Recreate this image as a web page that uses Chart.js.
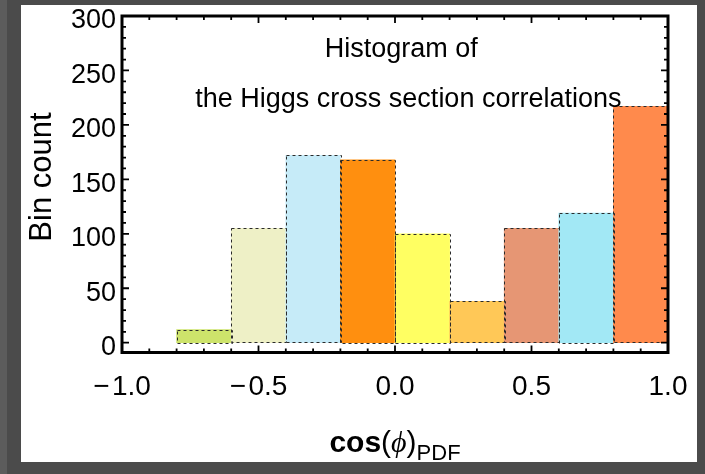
<!DOCTYPE html>
<html>
<head>
<meta charset="utf-8">
<script src="https://cdn.jsdelivr.net/npm/chart.js@4.4.1/dist/chart.umd.min.js"></script>
<style>
  html, body { margin: 0; padding: 0; }
  body { width: 705px; height: 474px; background: #4b4b4b; position: relative; overflow: hidden; }
  #strip { position: absolute; left: 0; top: 0; width: 7px; height: 474px; background: #5c5c5c; }
  #panel { position: absolute; left: 21px; top: 5px; width: 676px; height: 457px; background: #fff; }
</style>
</head>
<body>
<div id="strip"></div>
<div id="panel"><canvas id="histo" width="676" height="457"></canvas></div>
<script>
// histogram bins (width 0.2) and their counts
const binCentres = [-0.7, -0.5, -0.3, -0.1, 0.1, 0.3, 0.5, 0.7, 0.9];
const binCounts  = [12, 105, 172, 168, 100, 38, 105, 119, 217];
const binColours = ['#cde36b', '#eef0c6', '#c6ebf8', '#ff8f0f', '#ffff62',
                    '#ffc857', '#e69674', '#a2e8f5', '#ff8a4c'];

const xTicks = [-1.0, -0.5, 0.0, 0.5, 1.0];
const yTicks = [0, 50, 100, 150, 200, 250, 300];

const titleLines = ['Histogram of', 'the Higgs cross section correlations'];
const yTitle = 'Bin count';

const FONT = '"Liberation Sans", Arial, sans-serif';

function fmtX(v) {
  if (Math.abs(v) < 1e-9) return '0.0';
  return (v < 0 ? '\u2212\u200A' : '') + Math.abs(v).toFixed(1);
}

// Mathematica-style frame: inward ticks on all four sides
const framePlugin = {
  id: 'framePlugin',
  afterDatasetsDraw(chart) {
    const ctx = chart.ctx;
    const meta = chart.getDatasetMeta(0);
    ctx.save();
    ctx.strokeStyle = '#2b2b2b';
    ctx.lineWidth = 1;
    ctx.setLineDash([3, 3]);
    meta.data.forEach(bar => {
      const p = bar.getProps(['x', 'y', 'base', 'width'], true);
      const l = Math.round(p.x - p.width / 2) + 0.5;
      const t = Math.round(p.y) + 0.5;
      ctx.strokeRect(l, t, Math.round(p.width), Math.round(p.base - p.y));
    });
    ctx.restore();
  },
  afterDraw(chart) {
    const ctx = chart.ctx;
    const a = chart.chartArea;
    const x = chart.scales.x, y = chart.scales.y;

    ctx.save();
    ctx.strokeStyle = '#000';
    ctx.lineWidth = 1.8;
    ctx.beginPath();
    for (let i = -10; i <= 10; i++) {
      const v = i / 10;
      const px = x.getPixelForValue(v);
      const len = (i % 5 === 0) ? 7 : 4;
      ctx.moveTo(px, a.bottom); ctx.lineTo(px, a.bottom - len);
      ctx.moveTo(px, a.top); ctx.lineTo(px, a.top + len);
    }
    for (let v = 0; v <= 300; v += 10) {
      const py = y.getPixelForValue(v);
      const len = (v % 50 === 0) ? 7 : 4;
      ctx.moveTo(a.left, py); ctx.lineTo(a.left + len, py);
      ctx.moveTo(a.right, py); ctx.lineTo(a.right - len, py);
    }
    ctx.stroke();

    ctx.lineWidth = 3;
    ctx.strokeRect(a.left, a.top, a.right - a.left, a.bottom - a.top);

    // text inside the frame
    ctx.fillStyle = '#000';
    ctx.font = '27px ' + FONT;
    ctx.textAlign = 'center';
    ctx.textBaseline = 'alphabetic';
    ctx.fillText(titleLines[0], x.getPixelForValue(0.023), y.getPixelForValue(262));
    ctx.fillText(titleLines[1], x.getPixelForValue(0.049), y.getPixelForValue(216));

    // y axis title
    ctx.save();
    ctx.translate(30, 172);
    ctx.rotate(-Math.PI / 2);
    ctx.font = '31px ' + FONT;
    ctx.fillText(yTitle, 0, 0);
    ctx.restore();

    // x axis title: cos(phi) with PDF subscript
    const parts = [
      { t: 'cos', f: 'bold 30px ' + FONT, dy: 0 },
      { t: '(', f: '30px ' + FONT, dy: 0 },
      { t: '\u03D5', f: 'italic 30px "Liberation Serif", "DejaVu Serif", serif', dy: 0 },
      { t: ')', f: '30px ' + FONT, dy: 0 },
      { t: 'PDF', f: '22px ' + FONT, dy: 8 }
    ];
    let total = 0;
    parts.forEach(p => { ctx.font = p.f; p.w = ctx.measureText(p.t).width; total += p.w; });
    let cx = x.getPixelForValue(0) - total / 2;
    ctx.textAlign = 'left';
    parts.forEach(p => {
      ctx.font = p.f;
      ctx.fillText(p.t, cx, 447 + p.dy);
      cx += p.w;
    });
    ctx.restore();
  }
};

new Chart(document.getElementById('histo'), {
  type: 'bar',
  data: {
    datasets: [{
      data: binCentres.map((c, i) => ({ x: c, y: binCounts[i] })),
      backgroundColor: binColours,
      borderWidth: 0,
      barPercentage: 1,
      categoryPercentage: 1
    }]
  },
  options: {
    responsive: false,
    animation: false,
    layout: { padding: { top: 11, right: 29, left: 0, bottom: 0 } },
    plugins: { legend: { display: false }, tooltip: { enabled: false } },
    scales: {
      x: {
        type: 'linear',
        offset: false,
        min: -1,
        max: 1,
        grid: { display: false, drawTicks: false },
        border: { display: false },
        afterBuildTicks: s => { s.ticks = xTicks.map(v => ({ value: v })); },
        afterFit: s => { s.height = 109.5; s.paddingLeft = 0; s.paddingRight = 0; },
        ticks: {
          autoSkip: false,
          maxRotation: 0,
          padding: 18,
          color: '#000',
          font: { family: FONT, size: 28 },
          callback: v => fmtX(v)
        }
      },
      y: {
        min: -9,
        max: 300,
        grid: { display: false, drawTicks: false },
        border: { display: false },
        afterBuildTicks: s => { s.ticks = yTicks.map(v => ({ value: v })); },
        afterFit: s => { s.width = 101; s.paddingTop = 0; s.paddingBottom = 0; },
        ticks: {
          padding: 6,
          labelOffset: 5,
          color: '#000',
          font: { family: FONT, size: 27 },
          callback: v => String(v)
        }
      }
    }
  },
  plugins: [framePlugin]
});
</script>
</body>
</html>
